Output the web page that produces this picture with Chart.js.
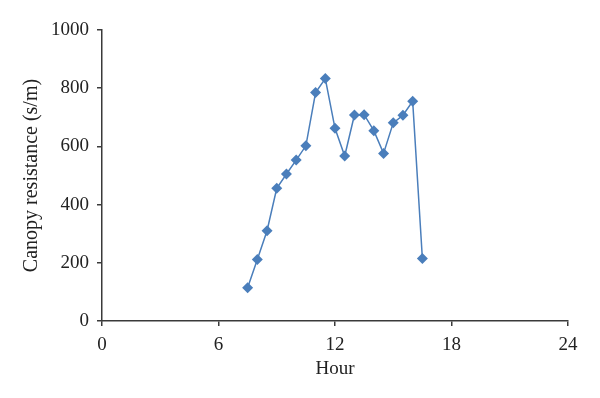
<!DOCTYPE html>
<html lang="en">
<head>
    <meta charset="UTF-8">
    <title>Canopy resistance</title>
    <style>
        html, body { margin: 0; padding: 0; background: #fff; }
        #wrap { width: 600px; height: 398px; }
    </style>
</head>
<body>
<div id="wrap"><canvas id="chart_canvas" width="600" height="398"></canvas></div>
<script src="https://cdn.jsdelivr.net/npm/chart.js@4.2.0/dist/chart.umd.min.js"></script>
<script>
    // values
    const hours = [7.5, 8, 8.5, 9, 9.5, 10, 10.5, 11, 11.5, 12, 12.5, 13, 13.5, 14, 14.5, 15, 15.5, 16, 16.5];
    const resistance = [114, 211, 310, 456, 505, 553, 602, 785, 833, 662, 567, 708, 709, 654, 576, 681, 707, 755, 215];
    const xTicks = [0, 6, 12, 18, 24];
    const yTicks = [0, 200, 400, 600, 800, 1000];

    const blue = '#4a7ebb';
    const axisColor = '#3a3a3a';
    const serif = "'Liberation Serif', 'DejaVu Serif', serif";

    const points = hours.map((h, i) => ({x: h, y: resistance[i]}));

    const ctx = document.getElementById('chart_canvas').getContext('2d');
    const chart = new Chart(ctx, {
        type: 'scatter',
        data: {
            datasets: [{
                data: points,
                showLine: true,
                borderColor: blue,
                borderWidth: 1.5,
                backgroundColor: blue,
                pointStyle: 'rectRot',
                pointRadius: 5.5,
                pointBorderWidth: 0,
                pointHoverRadius: 5.5
            }]
        },
        options: {
            responsive: false,
            animation: false,
            layout: {
                padding: {top: 30, right: 32, bottom: 18, left: 0}
            },
            plugins: {
                legend: {display: false},
                tooltip: {enabled: false}
            },
            scales: {
                x: {
                    type: 'linear',
                    min: 0,
                    max: 24,
                    afterBuildTicks: s => { s.ticks = xTicks.map(v => ({value: v})); },
                    afterFit: s => { s.height = 59; },
                    border: {display: true, color: axisColor, width: 1.5},
                    grid: {display: true, drawOnChartArea: false, drawTicks: true, tickLength: 5, color: axisColor, lineWidth: 1.5},
                    ticks: {color: '#222', padding: 8, font: {family: serif, size: 19}, callback: v => String(v)},
                    title: {display: true, text: 'Hour', color: '#222', padding: {top: 0, bottom: 0}, font: {family: serif, size: 19}}
                },
                y: {
                    type: 'linear',
                    min: 0,
                    max: 1000,
                    afterBuildTicks: s => { s.ticks = yTicks.map(v => ({value: v})); },
                    afterFit: s => { s.width = 102; },
                    border: {display: true, color: axisColor, width: 1.5},
                    grid: {display: true, drawOnChartArea: false, drawTicks: true, tickLength: 5, color: axisColor, lineWidth: 1.5},
                    ticks: {color: '#222', padding: 8, font: {family: serif, size: 19}, callback: v => String(v)},
                    title: {display: true, text: 'Canopy resistance (s/m)', color: '#222', padding: {top: 20, bottom: 0}, font: {family: serif, size: 20}}
                }
            }
        }
    });
</script>
</body>
</html>
